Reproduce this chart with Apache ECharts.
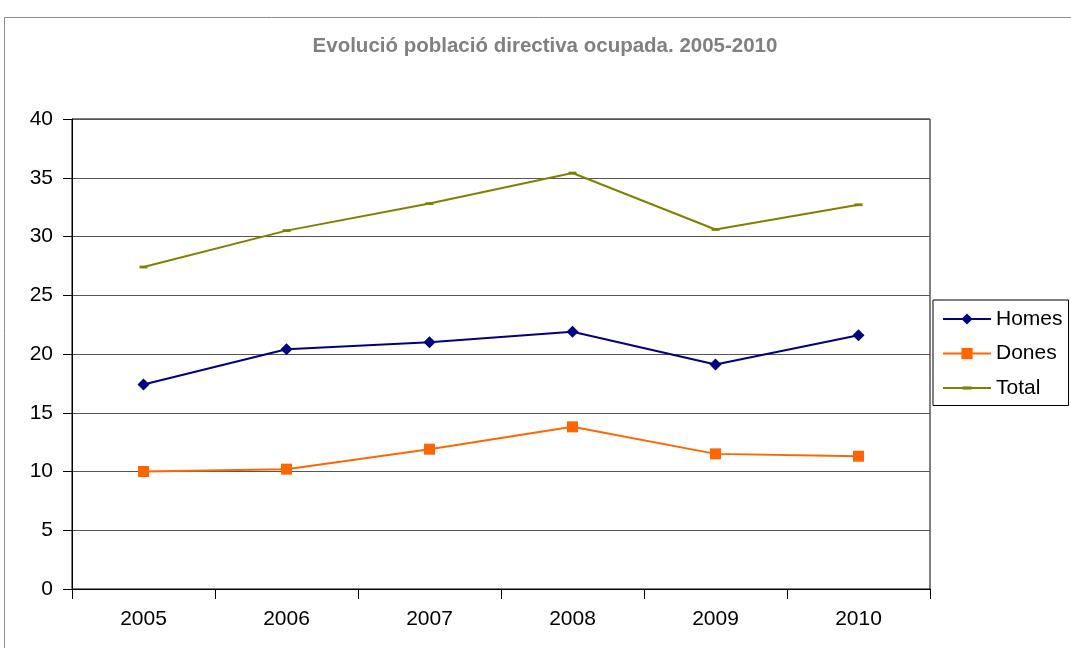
<!DOCTYPE html>
<html><head><meta charset="utf-8">
<script src="https://cdn.jsdelivr.net/npm/echarts@6/dist/echarts.min.js"></script>
<style>html,body{margin:0;padding:0;background:#fff}#c{width:1071px;height:648px}</style>
</head><body><div id="c"></div>
<script>
const categories = ['2005','2006','2007','2008','2009','2010'];
const homes = [17.4, 20.4, 21.0, 21.9, 19.1, 21.6];
const dones = [10.0, 10.2, 11.9, 13.8, 11.5, 11.3];
const total = [27.4, 30.5, 32.8, 35.4, 30.6, 32.7];
const yTicks = [0, 5, 10, 15, 20, 25, 30, 35, 40];

const FONT = "'Liberation Sans', Arial, sans-serif";
const DASH = 'path://M0,0 M10,10 M1,3.6h8v2.8h-8z';
const chart = echarts.init(document.getElementById('c'), null, {renderer: 'canvas'});
chart.setOption({
  animation: false,
  backgroundColor: '#fff',
  title: {
    text: 'Evolució població directiva ocupada. 2005-2010',
    left: 545, top: 34, textAlign: 'center', padding: 0,
    textStyle: {fontFamily: FONT, fontSize: 20.5, fontWeight: 'bold', color: '#808080', lineHeight: 24}
  },
  graphic: [{
    type: 'rect', shape: {x: 4.5, y: 17.5, width: 1200, height: 800},
    style: {fill: 'none', stroke: '#8c8c8c', lineWidth: 1}, silent: true, z: -1
  }],
  legend: {
    orient: 'vertical', left: 933, top: 300,
    itemWidth: 48, itemHeight: 14, itemGap: 13.5,
    padding: [8.5, 6, 7, 9],
    borderColor: '#000', borderWidth: 1,
    textStyle: {fontFamily: FONT, fontSize: 21, lineHeight: 21, color: '#000'},
    data: ['Homes', 'Dones', 'Total']
  },
  grid: {left: 72, right: 141, top: 119, bottom: 59, show: true, borderColor: '#000', borderWidth: 1},
  xAxis: {
    type: 'category', data: categories, boundaryGap: true,
    axisLine: {lineStyle: {color: '#000', width: 1}},
    axisTick: {show: true, length: 10, lineStyle: {color: '#000'}},
    axisLabel: {fontFamily: FONT, fontSize: 21, color: '#000', margin: 20},
    splitLine: {show: false}
  },
  yAxis: {
    type: 'value', min: 0, max: 40, interval: 5,
    axisLine: {show: true, lineStyle: {color: '#000'}},
    axisTick: {show: true, length: 9, lineStyle: {color: '#000'}},
    axisLabel: {fontFamily: FONT, fontSize: 21, color: '#000', margin: 19,
      formatter: v => yTicks.includes(v) ? String(v) : ''},
    splitLine: {show: true, lineStyle: {color: '#555', width: 1}}
  },
  series: [
    {name: 'Homes', type: 'line', data: homes, color: '#000080',
     symbol: 'diamond', symbolSize: 12, lineStyle: {width: 2, color: '#000080'},
     itemStyle: {color: '#000080'}},
    {name: 'Dones', type: 'line', data: dones, color: '#FF6600',
     symbol: 'rect', symbolSize: 11, lineStyle: {width: 2, color: '#FF6600'},
     itemStyle: {color: '#FF6600'}},
    {name: 'Total', type: 'line', data: total, color: '#808000',
     symbol: DASH, symbolSize: 10, lineStyle: {width: 2, color: '#808000'},
     itemStyle: {color: '#808000'}}
  ]
});
</script></body></html>
